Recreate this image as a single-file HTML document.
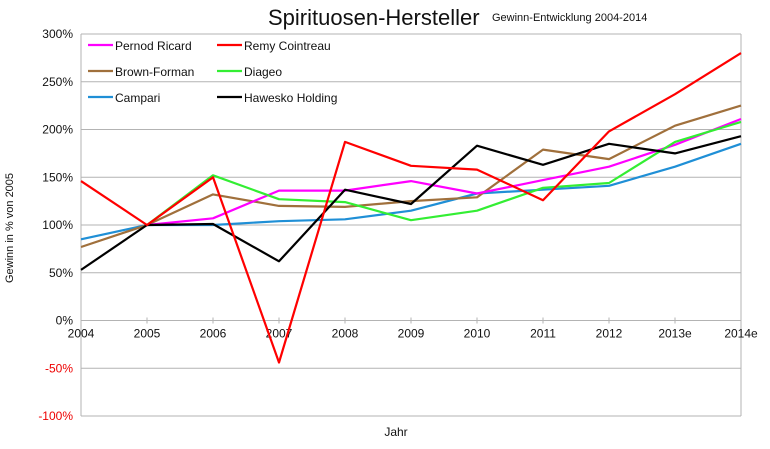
<!DOCTYPE html>
<html><head><meta charset="utf-8"><style>
body{margin:0;background:#fff;font-family:"Liberation Sans",sans-serif}
svg text{font-family:"Liberation Sans",sans-serif}
</style></head><body>
<svg id="chart" width="770" height="444" xmlns="http://www.w3.org/2000/svg">
<text x="268" y="25" font-size="22" fill="#111">Spirituosen-Hersteller</text>
<text x="492" y="21" font-size="11" fill="#111">Gewinn-Entwicklung 2004-2014</text>
<text transform="translate(13,228) rotate(-90)" text-anchor="middle" font-size="11" fill="#111">Gewinn in % von 2005</text>
<text x="396" y="436" font-size="12" fill="#111" text-anchor="middle">Jahr</text>
<g id="grid"></g><g id="series"></g><g id="legend"></g>
</svg>
<script>
const categories=["2004","2005","2006","2007","2008","2009","2010","2011","2012","2013e","2014e"];
const yTicks=[300,250,200,150,100,50,0,-50,-100];
const pernod=[null,100,107,136,136,146,133,147,161,184,211];
const remy=[146,100,150,-44,187,162,158,126,198,237,280];
const brown=[77,100,132,120,119,125,129,179,169,204,225];
const diageo=[null,100,152,127,124,105,115,139,144,187,208];
const campari=[85,100,100,104,106,115,133,137,141,161,185];
const hawesko=[53,100,101,62,137,122,183,163,185,175,193];
const names=["Pernod Ricard","Remy Cointreau","Brown-Forman","Diageo","Campari","Hawesko Holding"];
const NS="http://www.w3.org/2000/svg";
const L=81,R=741,T=34,B=416;
const x=i=>L+i*(R-L)/(categories.length-1);
const y=v=>T+(300-v)*(B-T)/400;
function mk(t,a,p){const e=document.createElementNS(NS,t);for(const k in a)e.setAttribute(k,a[k]);p.appendChild(e);return e;}
const g=document.getElementById('grid');
yTicks.forEach(v=>{
 const l=mk('line',{x1:L,x2:R,y1:y(v),y2:y(v),stroke:'#b3b3b3','stroke-width':1},g);
 
 
 const t=mk('text',{x:L-8,y:y(v)+4,'text-anchor':'end','font-size':12,fill:v<0?'#e00':'#111'},g);
 t.textContent=v+'%';
 
 
});
const ax=mk('line',{x1:L,x2:L,y1:T,y2:B,stroke:'#b3b3b3'},g);


const rx=mk('line',{x1:R,x2:R,y1:T,y2:B,stroke:'#b3b3b3'},g);


categories.forEach((c,i)=>{
 const tk=mk('line',{x1:x(i),x2:x(i),y1:y(0)-3,y2:y(0)+3,stroke:'#b3b3b3'},g);
 
 
 const t=mk('text',{x:x(i),y:y(0)+17,'text-anchor':'middle','font-size':12,fill:'#111'},g);
 t.textContent=c;
 
 
});
const sg=document.getElementById('series');
const data=[pernod,remy,brown,diageo,campari,hawesko];
const colors=['#ff00ff','#ff0000','#a0703c','#33ee33','#1f8fd6','#000000'];
const order=[4,2,0,3,5,1];
order.forEach(k=>{
 const d=data[k].map((v,i)=>v==null?null:x(i).toFixed(1)+','+y(v).toFixed(1)).filter(s=>s).join(' ');
 const p=mk('polyline',{points:d,fill:'none',stroke:colors[k],'stroke-width':2.2,'stroke-linejoin':'round'},sg);
 
 
});
const lg=document.getElementById('legend');
names.forEach((n,k)=>{
 const cx=88+(k%2)*129, cy=45+Math.floor(k/2)*26;
 const ln=mk('line',{x1:cx,x2:cx+25,y1:cy,y2:cy,stroke:colors[k],'stroke-width':2.2},lg);
 
 
 const t=mk('text',{x:cx+27,y:cy+5,'font-size':12,fill:'#111'},lg);
 t.textContent=n;
 
 
});
</script>
</body></html>
